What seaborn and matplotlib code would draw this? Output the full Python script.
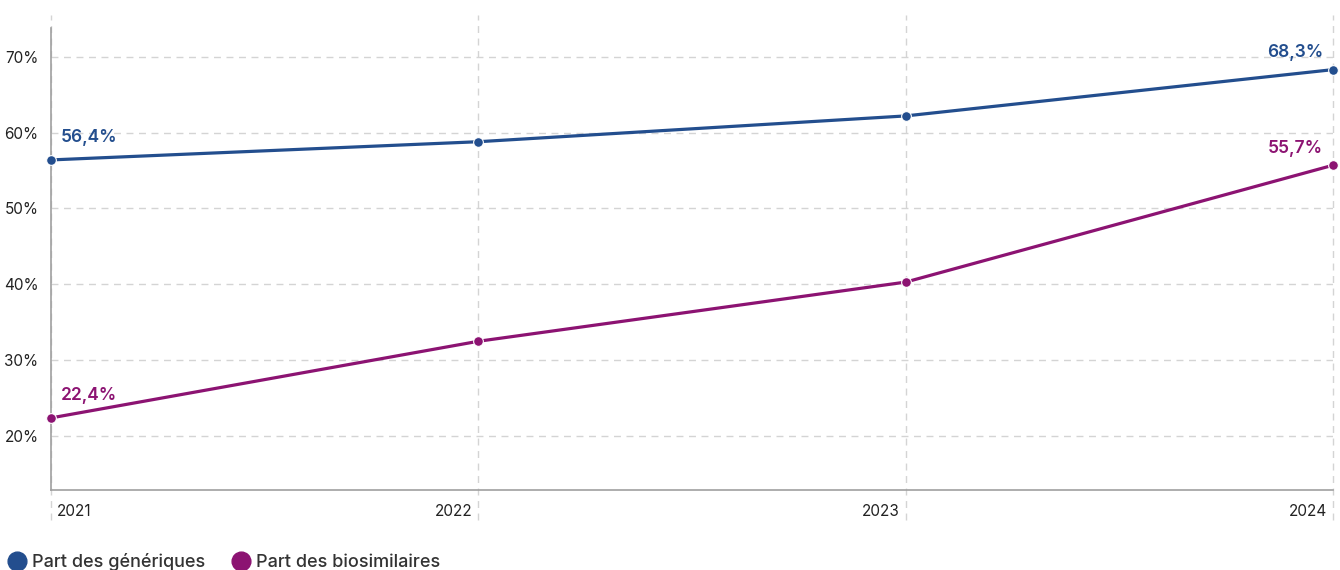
import matplotlib
matplotlib.use("Agg")
import matplotlib.pyplot as plt
import matplotlib.transforms as mtransforms
from matplotlib.lines import Line2D
import seaborn as sns
import pandas as pd

years = [2021, 2022, 2023, 2024]
generiques = [56.4, 58.8, 62.2, 68.3]
biosimilaires = [22.4, 32.5, 40.3, 55.7]
series_names = ["Part des génériques", "Part des biosimilaires"]
y_ticks = [20, 30, 40, 50, 60, 70]
label_gen = ["56,4%", "68,3%"]
label_bio = ["22,4%", "55,7%"]

BLUE = "#234e8e"
PURPLE = "#8c1372"

sns.set_theme(style="white")
plt.rcParams["font.family"] = ["Inter", "DejaVu Sans"]

df = pd.DataFrame({
    "year": years * 2,
    "value": generiques + biosimilaires,
    "serie": [series_names[0]] * 4 + [series_names[1]] * 4,
})

fig = plt.figure(figsize=(13.4, 5.7), dpi=100)
ax = fig.add_axes([51 / 1340, 80 / 570, 1282 / 1340, 475 / 570])

sns.lineplot(data=df, x="year", y="value", hue="serie",
             palette={series_names[0]: BLUE, series_names[1]: PURPLE},
             linewidth=2.3, marker="o", markersize=7, markeredgecolor="white",
             markeredgewidth=0.8, ax=ax, legend=False, clip_on=False, zorder=5)
for ln in ax.lines:
    ln.set_clip_on(False)

ax.set_xlim(2021, 2024)
ax.set_ylim(12.9, 75.5)
ax.set_xlabel("")
ax.set_ylabel("")

# horizontal grid
ax.set_yticks(y_ticks)
ax.set_yticklabels([f"{v}%" for v in y_ticks], fontsize=11, color="#222222")
for v in y_ticks:
    ax.axhline(v, color="#d4d4d4", lw=1, ls=(0, (5, 4)), zorder=0)

# vertical grid extending below axis
xtr = ax.get_xaxis_transform()
for yr in years:
    ax.plot([yr, yr], [-0.063, 1.0], transform=xtr, color="#d4d4d4", lw=1,
            ls=(0, (5, 4)), clip_on=False, zorder=0)

ax.set_xticks(years)
ax.set_xticklabels([str(y) for y in years], fontsize=11, color="#222222")
ax.tick_params(axis="both", length=0)
ax.tick_params(axis="x", pad=10)
ax.tick_params(axis="y", pad=9)
for i, lab in enumerate(ax.get_xticklabels()):
    if i == 0:
        lab.set_ha("left")
        lab.set_transform(lab.get_transform() + mtransforms.ScaledTranslation(6 / 100, 0, fig.dpi_scale_trans))
    else:
        lab.set_ha("right")
        lab.set_transform(lab.get_transform() + mtransforms.ScaledTranslation(-6 / 100, 0, fig.dpi_scale_trans))

for s in ["top", "right"]:
    ax.spines[s].set_visible(False)
ax.spines["left"].set_color("#a0a0a0")
ax.spines["bottom"].set_color("#a0a0a0")
ax.spines["left"].set_linewidth(1.2)
ax.spines["bottom"].set_linewidth(1.2)
ax.spines["left"].set_bounds(12.9, 73.8)

# value labels
off = dict(textcoords="offset points", fontsize=12.5, fontweight="semibold")
ax.annotate(label_gen[0], (years[0], generiques[0]), xytext=(7, 10), ha="left", va="bottom", color=BLUE, **off)
ax.annotate(label_gen[1], (years[-1], generiques[-1]), xytext=(-7, 6), ha="right", va="bottom", color=BLUE, **off)
ax.annotate(label_bio[0], (years[0], biosimilaires[0]), xytext=(7, 10), ha="left", va="bottom", color=PURPLE, **off)
ax.annotate(label_bio[1], (years[-1], biosimilaires[-1]), xytext=(-7, 6), ha="right", va="bottom", color=PURPLE, **off)

handles = [Line2D([], [], ls="", marker="o", markersize=13.5, color=BLUE),
           Line2D([], [], ls="", marker="o", markersize=13.5, color=PURPLE)]
fig.legend(handles, series_names, loc="center left", bbox_to_anchor=(0.006, 1 - 562 / 570),
           ncol=2, frameon=False, prop={"size": 13.0, "weight": "medium"},
           handletextpad=0.35, columnspacing=1.45, borderpad=0, borderaxespad=0,
           handlelength=1.0, labelcolor="#333333")

fig.savefig("out.png", dpi=100)
